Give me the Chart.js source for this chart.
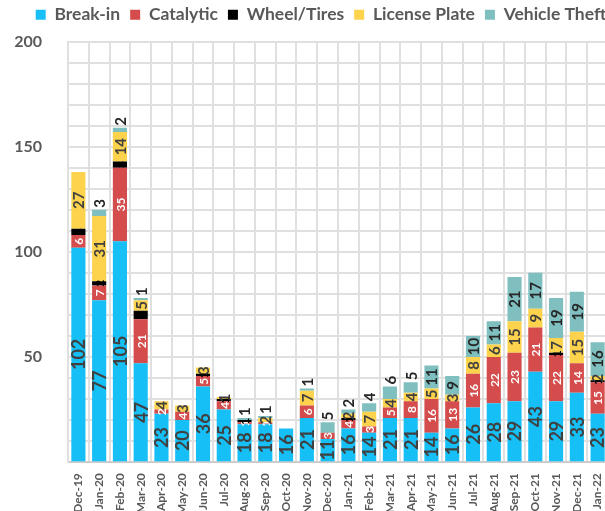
<!DOCTYPE html>
<html>
<head>
<meta charset="utf-8">
<script src="https://cdn.jsdelivr.net/npm/chart.js@4.4.1/dist/chart.umd.min.js"></script>
<style>
  html, body { margin: 0; padding: 0; background: #fff; overflow: hidden; }
  #wrap { position: relative; width: 608px; height: 526px; }
</style>
</head>
<body>
<div id="wrap"><canvas id="chart"></canvas></div>
<script>
const months = ["Dec-19", "Jan-20", "Feb-20", "Mar-20", "Apr-20", "May-20", "Jun-20", "Jul-20",
  "Aug-20", "Sep-20", "Oct-20", "Nov-20", "Dec-20", "Jan-21", "Feb-21", "Mar-21", "Apr-21",
  "May-21", "Jun-21", "Jul-21", "Aug-21", "Sep-21", "Oct-21", "Nov-21", "Dec-21", "Jan-22"];

const breakIn      = [102, 77, 105, 47, 23, 20, 36, 25, 18, 18, 16, 21, 11, 16, 14, 21, 21, 14, 16, 26, 28, 29, 43, 29, 33, 23];
const catalytic    = [6, 7, 35, 21, 2, 4, 5, 4, 1, 1, 0, 6, 3, 4, 3, 5, 8, 16, 13, 16, 22, 23, 21, 22, 14, 15];
const wheelTires   = [3, 2, 3, 4, 0, 0, 1, 1, 1, 0, 0, 0, 0, 1, 0, 0, 0, 0, 0, 0, 0, 0, 0, 1, 0, 1];
const licensePlate = [27, 31, 14, 5, 4, 3, 3, 1, 0, 2, 0, 7, 0, 2, 7, 4, 4, 5, 3, 8, 6, 15, 9, 7, 15, 2];
const vehicleTheft = [0, 3, 2, 1, 0, 0, 0, 0, 1, 1, 0, 1, 5, 2, 4, 6, 5, 11, 9, 10, 11, 21, 17, 19, 19, 16];

const yTickLabels = [50, 100, 150, 200];

const FONT = "Lato";
const GRID = "#e0e0e0";

// label look per dataset: size, colour
const labelStyle = [
  { size: 18, color: "#404040" },
  { size: 12, color: "#ffffff" },
  { size: 12, color: "#000000" },
  { size: 15, color: "#404040" },
  { size: 15, color: "#262626" },
];

// value labels, rotated, centred in each segment (small top segments get it above)
const segLabels = {
  id: "segLabels",
  afterDatasetsDraw(chart) {
    const ctx = chart.ctx;
    const last = chart.data.datasets.length - 1;
    chart.data.datasets.forEach((ds, i) => {
      const meta = chart.getDatasetMeta(i);
      const st = labelStyle[i];
      meta.data.forEach((bar, j) => {
        const v = ds.data[j];
        if (!v) return;
        const h = bar.base - bar.y;
        ctx.save();
        ctx.font = "bold " + st.size + "px " + FONT;
        ctx.fillStyle = st.color;
        ctx.textBaseline = "middle";
        if (i === last && h < 16) {
          ctx.translate(bar.x, bar.y - 2);
          ctx.textAlign = "left";
        } else {
          ctx.translate(bar.x, (bar.y + bar.base) / 2);
          ctx.textAlign = "center";
        }
        ctx.rotate(-Math.PI / 2);
        ctx.fillText(String(v), 0, 1);
        ctx.restore();
      });
    });
  }
};

// nudge the legend a bit right and up, like the original
const legendNudge = {
  id: "legendNudge",
  afterLayout(chart) {
    const lg = chart.legend;
    if (!lg) return;
    lg.left += 17; lg.right += 17;
    lg.top -= 8; lg.bottom -= 8;
  }
};

const mk = (label, data, color) => ({
  label: label,
  data: data,
  backgroundColor: color,
  borderWidth: 0,
  categoryPercentage: 1,
  barPercentage: 0.68,
});

new Chart(document.getElementById("chart"), {
  type: "bar",
  data: {
    labels: months,
    datasets: [
      mk("Break-in", breakIn, "#16bff6"),
      mk("Catalytic", catalytic, "#d44c4c"),
      mk("Wheel/Tires", wheelTires, "#000000"),
      mk("License Plate", licensePlate, "#fdd24c"),
      mk("Vehicle Theft", vehicleTheft, "#80bfbf"),
    ],
  },
  options: {
    responsive: true,
    maintainAspectRatio: false,
    animation: false,
    layout: { padding: { top: 4, left: 0, right: 0, bottom: 0 } },
    plugins: {
      legend: {
        position: "top",
        labels: {
          boxWidth: 10,
          boxHeight: 10,
          padding: 10,
          color: "#595959",
          font: { family: FONT, size: 17.5, weight: "bold" },
        },
      },
      tooltip: { enabled: false },
    },
    scales: {
      x: {
        stacked: true,
        grid: { color: GRID, lineWidth: 2, offset: true, drawTicks: false },
        border: { color: "#cccccc", width: 2 },
        ticks: {
          color: "#595959",
          font: { family: FONT, size: 12, weight: "bold" },
          maxRotation: 90,
          minRotation: 90,
          autoSkip: false,
          padding: 11,
        },
        afterFit: (s) => { s.paddingLeft = 0; s.paddingRight = 0; },
      },
      y: {
        stacked: true,
        min: 0,
        max: 200,
        grid: { color: GRID, lineWidth: 2, drawTicks: false },
        border: { color: GRID, width: 2 },
        ticks: {
          stepSize: 10,
          autoSkip: false,
          padding: 26,
          color: "#595959",
          font: { family: FONT, size: 16, weight: "bold" },
          callback: (v) => (yTickLabels.includes(v) ? v : ""),
        },
        afterFit: (s) => { s.width = 68; },
      },
    },
  },
  plugins: [segLabels, legendNudge],
});
</script>
</body>
</html>
